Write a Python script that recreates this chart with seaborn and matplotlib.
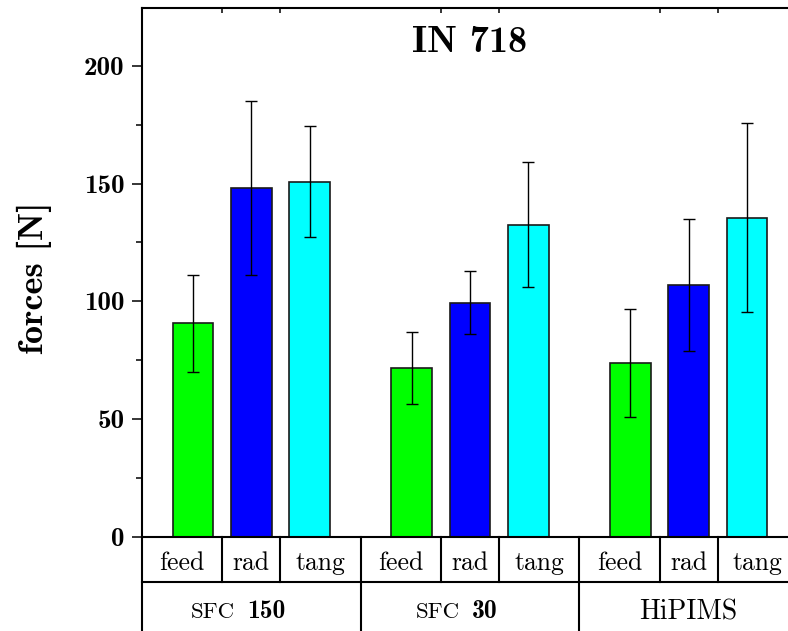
import matplotlib
matplotlib.use("Agg")
import matplotlib.pyplot as plt
from matplotlib.ticker import AutoMinorLocator
from matplotlib.offsetbox import TextArea, HPacker, AnnotationBbox
import numpy as np
import pandas as pd
import seaborn as sns

# Cutting-force measurements on IN 718 for three coatings
groups = ["SFC 150", "SFC 30", "HiPIMS"]
components = ["feed", "rad", "tang"]
feed = [90.7, 71.6, 73.7]
rad = [148.1, 99.4, 107.1]
tang = [150.9, 132.6, 135.6]
feed_err = [20.7, 15.2, 22.9]
rad_err = [36.9, 13.3, 28.0]
tang_err = [23.4, 26.7, 40.0]
colors = ["#00ff00", "#0000ff", "#00ffff"]
y_ticks = [0, 50, 100, 150, 200]

rows = []
for comp, vals, errs in zip(components, [feed, rad, tang], [feed_err, rad_err, tang_err]):
    for g, v, e in zip(groups, vals, errs):
        rows.append({"group": g, "component": comp, "force": v, "err": e})
df = pd.DataFrame(rows)

plt.rcParams["axes.unicode_minus"] = False
plt.rcParams["font.family"] = ["cmr10", "DejaVu Serif"]

W, H = 788, 631
fig = plt.figure(figsize=(W / 100, H / 100), dpi=100)
fig.patch.set_facecolor("white")

# Main plotting area; the right-hand frame runs just past the canvas edge
ax_left, ax_w = 142, 656
ax_bottom, ax_top = 536.7, 8.3
ax = fig.add_axes([ax_left / W, (H - ax_bottom) / H, ax_w / W, (ax_bottom - ax_top) / H])

bar_width = 0.8
sns.barplot(data=df, x="group", y="force", hue="component", order=groups,
            hue_order=components, palette=colors, saturation=1, width=bar_width,
            gap=0.3, errorbar=None, edgecolor="#1a1a1a", linewidth=1.2,
            legend=False, ax=ax, zorder=2)

# Error bars placed on the drawn bars
for comp, container in zip(components, ax.containers):
    sub = df[df["component"] == comp].set_index("group").loc[groups]
    xs = [p.get_x() + p.get_width() / 2 for p in container]
    ys = [p.get_height() for p in container]
    ax.errorbar(xs, ys, yerr=sub["err"].values, fmt="none", ecolor="black",
                elinewidth=1.0, capsize=4, capthick=1.0, zorder=3)

ax.set_xlim(-0.5, 2.5)
ax.set_ylim(0, 224.5)
ax.set_yticks(y_ticks)
ax.yaxis.set_minor_locator(AutoMinorLocator(2))
ax.tick_params(axis="y", which="major", direction="out", length=7.2, width=1.1,
               labelsize=19.5, pad=5.5, right=False)
ax.tick_params(axis="y", which="minor", direction="out", length=4, width=1.1, right=False)
for lbl in ax.get_yticklabels():
    lbl.set_fontfamily("cmb10")

# Slot boundaries between neighbouring bars within each group
slot = bar_width / len(components)
inner = [i + s * slot / 2 for i in range(len(groups)) for s in (-1, 1)]
ax.set_xticks(inner)
ax.tick_params(axis="x", which="both", bottom=False, labelbottom=False, top=True,
               labeltop=False, direction="in", length=3.6, width=1.1)
ax.set_xlabel("")
ax.set_ylabel("forces [N]", fontfamily="cmb10", fontsize=26)
ax.yaxis.set_label_coords(-0.137, 0.49)
for sp in ax.spines.values():
    sp.set_linewidth(1.5)
    sp.set_color("black")

ax.text(0.5, 0.917, "IN 718", transform=ax.transAxes, ha="center", va="baseline",
        fontfamily="cmb10", fontsize=27.5)

# Two-row category table under the axis
tbl_top, tbl_bottom, row_split = 536.7, 637.7, 582.3
tax = fig.add_axes([ax_left / W, (H - tbl_bottom) / H, ax_w / W, (tbl_bottom - tbl_top) / H])
tax.set_xlim(-0.5, 2.5)
tax.set_ylim(0, 1)
tax.axis("off")
tbl_h = tbl_bottom - tbl_top
ry = (tbl_bottom - row_split) / tbl_h
lw = 1.5
tax.plot([-0.5, 2.5], [ry, ry], color="black", lw=lw, clip_on=False)
for b in [-0.5, 0.5, 1.5]:
    tax.plot([b, b], [0, 1], color="black", lw=lw, clip_on=False)
for x in inner:
    tax.plot([x, x], [ry, 1], color="black", lw=lw, clip_on=False)

comp_base = (tbl_bottom - 570) / tbl_h
group_base = (tbl_bottom - 619) / tbl_h
group_mid = (tbl_bottom - 612) / tbl_h
for i, g in enumerate(groups):
    edges = [i - 0.5, i - slot / 2, i + slot / 2, i + 0.5]
    for j, comp in enumerate(components):
        tax.text((edges[j] + edges[j + 1]) / 2, comp_base, comp, ha="center",
                 va="baseline", fontfamily="cmr10", fontsize=18.5)
    if g.startswith("SFC"):
        num = g.split()[1]
        pack = HPacker(children=[
            TextArea("SFC", textprops=dict(fontfamily="cmr10", fontsize=16.5)),
            TextArea(num, textprops=dict(fontfamily="cmb10", fontsize=18.5)),
        ], align="baseline", pad=0, sep=9)
        ab = AnnotationBbox(pack, (i, group_mid), xycoords="data", xybox=(-9.4, 0),
                            boxcoords="offset points", frameon=False,
                            box_alignment=(0.5, 0.5), annotation_clip=False)
        tax.add_artist(ab)
    else:
        tax.text(i, group_base, g, ha="center", va="baseline", fontfamily="cmr10",
                 fontsize=20)

fig.savefig("out.png", dpi=100, facecolor="white")
